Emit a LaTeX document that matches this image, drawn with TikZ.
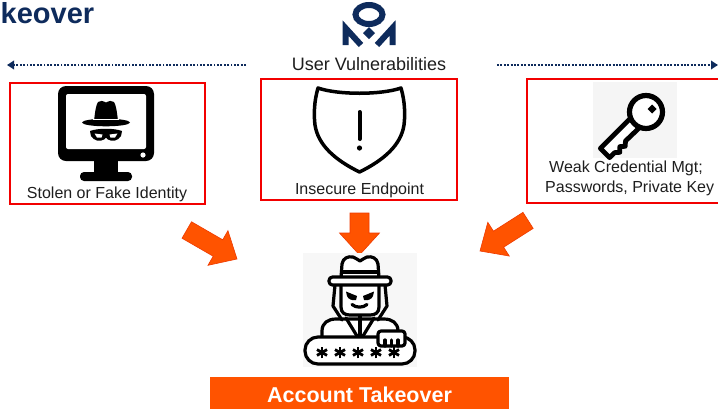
\documentclass[tikz,border=0pt]{standalone}
\usepackage{fontspec}
\setmainfont{Liberation Sans}
\usetikzlibrary{arrows.meta}

\definecolor{navy}{HTML}{0E2B5C}
\definecolor{boxred}{HTML}{F20000}
\definecolor{ato}{HTML}{FF5300}
\definecolor{atoedge}{HTML}{EE3A00}
\definecolor{txt}{HTML}{1E1E1E}

\tikzset{
  vulnbox/.style={draw=boxred, line width=2.6pt, inner sep=0pt},
  lbl/.style={font=\fontsize{16}{19}\selectfont, text=txt, inner sep=0pt},
  dotarrow/.style={navy, line width=2.3pt, dash pattern=on 1.9pt off 1.5pt,
    -{Triangle[width=8.5pt,length=7pt]}},
  hk/.style={line width=3.2pt, line join=round, line cap=round},
  fatarrow/.pic={
    \fill[ato, draw=atoedge, line width=0.6pt, line join=miter]
      (0,0) -- (-22,20) -- (-22,9.5) -- (-#1,9.5) -- (-#1,-9.5)
      -- (-22,-9.5) -- (-22,-20) -- cycle;},
  star6/.pic={
    \foreach \a in {90,30,150}
      \draw[line width=2.8pt] (\a:5.8) -- ({\a+180}:5.8);}
}

\begin{document}
\begin{tikzpicture}[x=1pt,y=-1pt]
\useasboundingbox (0,0) rectangle (718,408);
\fill[white] (0,0) rectangle (718,408);

% heading
\node[anchor=base west, font=\fontsize{29}{31}\selectfont\bfseries, text=navy,
      inner sep=0pt] (ttl) at (0.5,23) {keover};

% logo: ring, two strokes and a diamond
\begin{scope}[navy]
  \draw[line width=6pt] (369,14.5) ellipse (13.5 and 9.5);
  \draw[line width=6pt, line join=miter] (345.5,45) -- (345.5,28) -- (361,45);
  \draw[line width=6pt, line join=miter] (392.5,45) -- (392.5,28) -- (377,45);
  \fill (369,27) -- (375,33) -- (369,39) -- (363,33) -- cycle;
\end{scope}

\node[anchor=base, font=\fontsize{18}{21}\selectfont, text=txt, inner sep=0pt]
  (uv) at (369,70) {User Vulnerabilities};

% dotted arrows to both sides
\coordinate (la0) at (246,65);
\coordinate (la1) at (7,65);
\coordinate (ra0) at (497,65);
\coordinate (ra1) at (718,65);
\draw[dotarrow] (la0) -- (la1);
\draw[dotarrow] (ra0) -- (ra1);

% the three boxes
\node[vulnbox, minimum width=195, minimum height=121] (b1) at (107.5,143.5) {};
\node[vulnbox, minimum width=196, minimum height=121] (b2) at (359,139.5) {};
\node[vulnbox, minimum width=203, minimum height=124] (b3) at (628.5,141) {};

% monitor with a masked spy
\fill[rounded corners=8] (58,86) rectangle (154,161);
\fill[white, rounded corners=2] (66,94) rectangle (146,149);
\fill[white] (143,155) circle (2.6);
\fill (94,160) rectangle (118,173);
\fill[rounded corners=4] (80,172) rectangle (132,181);
\fill (94,121) .. controls (95,112) and (96,105) .. (98,102)
  .. controls (100,100) and (103,101) .. (106,102.5)
  .. controls (109,101) and (112,100) .. (114,102)
  .. controls (116,105) and (117,112) .. (118,121) -- cycle;
\fill (106,122.5) ellipse (24 and 3.8);
\draw[white, line width=0.8pt] (93,119.5) -- (119,119.5);
\fill (90,131) .. controls (98,128) and (114,128) .. (122,131)
  -- (121,136) .. controls (118,141) and (112,142) .. (108,139.5)
  -- (106,137.5) -- (104,139.5)
  .. controls (100,142) and (94,141) .. (91,136) -- cycle;
\fill[white] (94.5,133.5) -- (102.5,134.5) -- (101.5,137.5) -- (97,137.5) -- cycle;
\fill[white] (117.5,133.5) -- (109.5,134.5) -- (110.5,137.5) -- (115,137.5) -- cycle;
\node[lbl, anchor=base] (t1) at (107,198) {Stolen or Fake Identity};

% shield with exclamation mark
\draw[line width=3.5pt, line join=round]
  (318,88) .. controls (338,95) and (381,95) .. (401,88)
  .. controls (403,95) and (406,108) .. (404,125)
  .. controls (401,145) and (384,160) .. (359.5,172)
  .. controls (335,160) and (318,145) .. (315,125)
  .. controls (313,108) and (316,95) .. (318,88) -- cycle;
\draw[line width=4pt, line cap=round] (359.5,112) -- (359.5,139);
\fill (359.5,148) circle (2.6);
\node[lbl, anchor=base] (t2) at (359.5,194) {Insecure Endpoint};

% key
\fill[black!4] (593,82) rectangle (677,158);
\begin{scope}[shift={(646,112)}, rotate=225]
  \draw[line width=4.8pt, line join=round, fill=white]
    (14,6.5) -- (58,6.5) -- (58,-6.5) -- (51,-6.5) -- (47,-10) -- (43,-6)
    -- (39,-9.5) -- (35,-6) -- (14,-6.5) -- cycle;
  \draw[line width=5.2pt, fill=white] (0,0) circle (16.5);
\end{scope}
\fill (652,104.5) -- (656.5,109) -- (652,113.5) -- (647.5,109) -- cycle;
\node[lbl, anchor=base west] (t3a) at (549,172) {Weak Credential Mgt;};
\node[lbl, anchor=base west] (t3b) at (545,192) {Passwords, Private Key};

% orange arrows toward the attacker
\pic[rotate=-30] at (237,259) {fatarrow=58};
\pic[rotate=-90] at (359.5,255) {fatarrow=42};
\pic[rotate=-147.5] at (480,251) {fatarrow=57};

% attacker at the password field
\fill[black!3] (303,253) rectangle (417,367);
\draw[hk, fill=white] (322,342) -- (322,331) .. controls (322,323) and (328,319) .. (336,319)
  -- (384,319) .. controls (392,319) and (398,323) .. (398,331) -- (398,342);
\draw[hk] (335,285) -- (333,306) -- (342,320);
\draw[hk] (385,285) -- (387,306) -- (378,320);
\draw[hk, fill=white] (341,284) -- (341,307) .. controls (341,313) and (345,315) .. (350,315)
  -- (370,315) .. controls (375,315) and (379,313) .. (379,307) -- (379,284);
\draw[hk] (346,318) -- (357,336);
\draw[hk] (374,318) -- (363,336);
\draw[hk] (360,316) -- (360,338);
\fill (346,291.5) -- (357,296) -- (356,300) .. controls (352,301) and (348,299) .. (347,296) -- cycle;
\fill (374,291.5) -- (363,296) -- (364,300) .. controls (368,301) and (372,299) .. (373,296) -- cycle;
\draw[hk] (352,304.5) .. controls (356,308) and (363,308) .. (367,304.5);
\draw[hk, fill=white] (341,278) -- (342,264) .. controls (343,258) and (348,256) .. (353,257)
  .. controls (356,258) and (358,260) .. (360,261)
  .. controls (362,260) and (364,258) .. (367,257)
  .. controls (372,256) and (377,258) .. (378,264) -- (379,278);
\draw[hk] (341.5,272) -- (378.5,272);
\draw[hk, fill=white, rounded corners=3.5] (329,277) rectangle (391,285);
\draw[hk, fill=white, rounded corners=13] (305,337) rectangle (415,364);
\foreach \sx in {322,340,358,376,394}
  \pic at (\sx,352.5) {star6};
\draw[hk, fill=white, rounded corners=3] (378,331) rectangle (405,346);
\draw[hk] (385,340) -- (385,346) (391.5,340) -- (391.5,346) (398,340) -- (398,346);

% result banner
\node[fill=ato, minimum width=299, minimum height=40, anchor=north, inner sep=0pt]
  (res) at (359.5,377) {};
\node[anchor=base, font=\fontsize{21.5}{24}\selectfont\bfseries, text=white, inner sep=0pt]
  (rest) at (359.5,402) {Account Takeover};
\end{tikzpicture}
\end{document}
